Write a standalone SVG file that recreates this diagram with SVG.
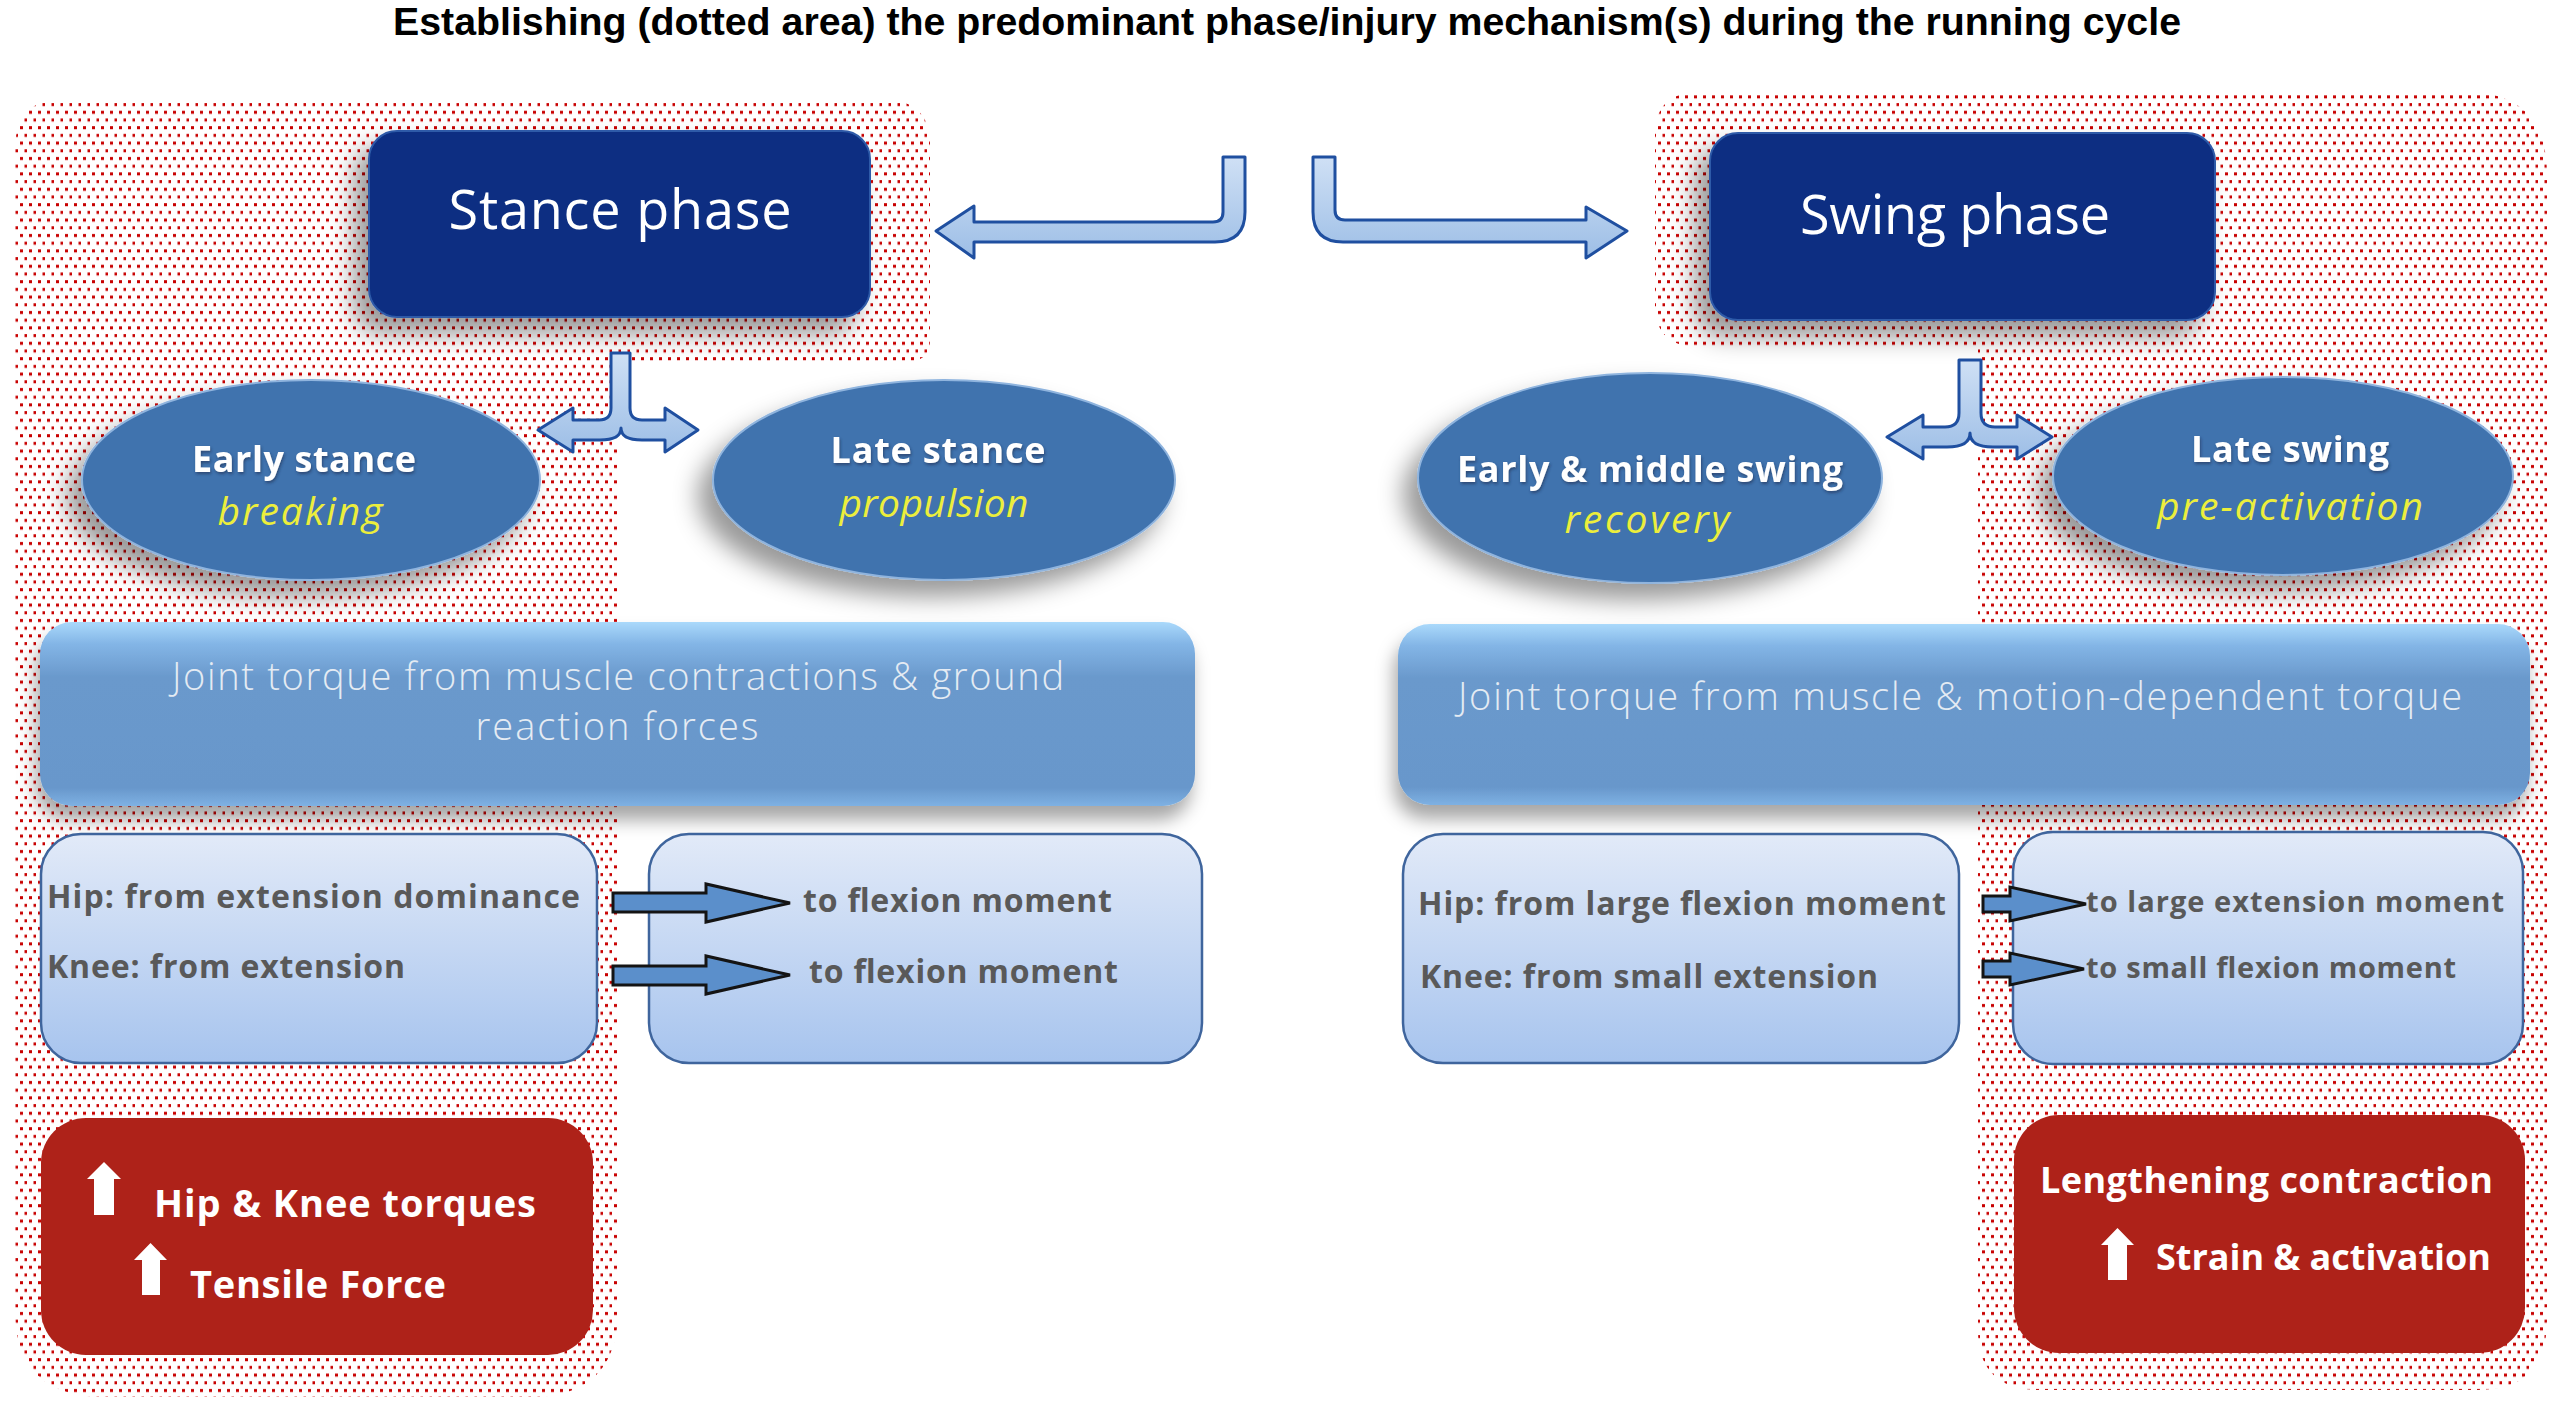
<svg xmlns="http://www.w3.org/2000/svg" width="2564" height="1408" viewBox="0 0 2564 1408">
<defs>
<pattern id="dots" width="9" height="15.4" patternUnits="userSpaceOnUse">
<rect x="2" y="3" width="3" height="3" fill="#c80000"/>
<rect x="6.5" y="10.7" width="3" height="3" fill="#c80000"/>
</pattern>
<filter id="sh" x="-20%" y="-20%" width="140%" height="150%">
<feDropShadow dx="-14" dy="16" stdDeviation="12" flood-color="#000" flood-opacity="0.4"/>
</filter>
<filter id="shb" x="-10%" y="-20%" width="120%" height="160%">
<feDropShadow dx="-4" dy="14" stdDeviation="9" flood-color="#000" flood-opacity="0.35"/>
</filter>
<filter id="ts" x="-5%" y="-20%" width="110%" height="150%">
<feDropShadow dx="1" dy="2" stdDeviation="1.5" flood-color="#1a2a50" flood-opacity="0.6"/>
</filter>
<linearGradient id="gBig" x1="0" y1="0" x2="0" y2="1">
<stop offset="0" stop-color="#aad9fb"/>
<stop offset="0.12" stop-color="#83b5e6"/>
<stop offset="0.3" stop-color="#6a99cc"/>
<stop offset="0.9" stop-color="#6897cb"/>
<stop offset="1" stop-color="#7eb1e3"/>
</linearGradient>
<linearGradient id="gSmall" x1="0" y1="0" x2="0" y2="1">
<stop offset="0" stop-color="#e2eaf8"/>
<stop offset="1" stop-color="#a7c4ee"/>
</linearGradient>
<linearGradient id="gArr" x1="0" y1="0" x2="0" y2="1">
<stop offset="0" stop-color="#cfe0f5"/>
<stop offset="1" stop-color="#9dbee6"/>
</linearGradient>
<style>
.dot{fill:url(#dots);}
.navy{fill:#0c2f82;stroke:#2f5aa8;stroke-width:2;}
.ell{fill:#4173ae;stroke:#8fb4de;stroke-width:2;}
.big{fill:url(#gBig);}
.small{fill:url(#gSmall);stroke:#3f659d;stroke-width:2.5;}
.red{fill:#ae2219;}
.conn{fill:url(#gArr);stroke:#1f4fa0;stroke-width:3;stroke-linejoin:round;}
.blk{fill:#5b8fcb;stroke:#141414;stroke-width:3;stroke-linejoin:miter;}
.up{fill:#ffffff;}
.t-title{font-family:"Liberation Sans",Arial,sans-serif;font-weight:bold;font-size:38px;fill:#000;}
.t-phase{font-family:"Open Sans","Liberation Sans",sans-serif;font-size:54px;fill:#fff;}
.t-ell{font-family:"Open Sans","Liberation Sans",sans-serif;font-weight:bold;font-size:36px;fill:#fff;}
.t-ital{font-family:"Open Sans","Liberation Sans",sans-serif;font-style:italic;font-size:39px;fill:#ecee3c;}
.t-tq{font-family:"Open Sans","Liberation Sans",sans-serif;font-weight:300;font-size:38px;fill:#e4ebf3;}
.t-sm{font-family:"Open Sans","Liberation Sans",sans-serif;font-weight:bold;font-size:32px;fill:#595959;}
.t-sm2{font-family:"Open Sans","Liberation Sans",sans-serif;font-weight:bold;font-size:29px;fill:#595959;}
.t-red{font-family:"Open Sans","Liberation Sans",sans-serif;font-weight:bold;font-size:38px;fill:#fff;}
</style>
</defs>
<rect x="0" y="0" width="2564" height="1408" fill="#ffffff"/>

<g id="title">
<text class="t-title" x="393" y="35" textLength="1788" lengthAdjust="spacingAndGlyphs">Establishing (dotted area) the predominant phase/injury mechanism(s) during the running cycle</text>
</g>

<g id="dotted-areas">
<path class="dot" d="M60,100 H885 Q930,100 930,145 V340 Q930,362 905,362 H618 V1310 Q618,1397 530,1397 H105 Q15,1397 15,1310 V150 Q15,100 60,100 Z"/>
<path class="dot" d="M1700,92 H2465 Q2547,92 2547,175 V1320 Q2547,1390 2478,1390 H2040 Q1978,1390 1978,1330 V347 H1700 Q1655,347 1655,305 V135 Q1655,92 1700,92 Z"/>
</g>

<g id="stance-phase" filter="url(#sh)">
<rect class="navy" x="369" y="131" width="501" height="186" rx="28"/>
<text class="t-phase" x="620" y="229" text-anchor="middle" textLength="343">Stance phase</text>
</g>
<g id="swing-phase" filter="url(#sh)">
<rect class="navy" x="1710" y="133" width="505" height="187" rx="28"/>
<text class="t-phase" x="1955" y="234" text-anchor="middle" textLength="310">Swing phase</text>
</g>

<g id="early-stance">
<ellipse class="ell" cx="311" cy="480" rx="229" ry="100" filter="url(#sh)"/>
<text class="t-ell" x="304" y="472" text-anchor="middle" textLength="224" filter="url(#ts)">Early stance</text>
<text class="t-ital" x="300" y="525" text-anchor="middle" textLength="165">breaking</text>
</g>
<g id="late-stance">
<ellipse class="ell" cx="944" cy="480" rx="231" ry="100" filter="url(#sh)"/>
<text class="t-ell" x="938" y="463" text-anchor="middle" textLength="215" filter="url(#ts)">Late stance</text>
<text class="t-ital" x="934" y="517" text-anchor="middle" textLength="189">propulsion</text>
</g>
<g id="early-middle-swing">
<ellipse class="ell" cx="1650" cy="478" rx="232" ry="105" filter="url(#sh)"/>
<text class="t-ell" x="1650" y="482" text-anchor="middle" textLength="386" filter="url(#ts)">Early &amp; middle swing</text>
<text class="t-ital" x="1647" y="533" text-anchor="middle" textLength="165">recovery</text>
</g>
<g id="late-swing">
<ellipse class="ell" cx="2283" cy="476" rx="230" ry="99" filter="url(#sh)"/>
<text class="t-ell" x="2290" y="462" text-anchor="middle" textLength="198" filter="url(#ts)">Late swing</text>
<text class="t-ital" x="2290" y="520" text-anchor="middle" textLength="266">pre-activation</text>
</g>

<g id="torque-stance">
<rect class="big" x="40" y="622" width="1155" height="184" rx="32" filter="url(#shb)"/>
<text class="t-tq" x="618" y="690" text-anchor="middle" textLength="892">Joint torque from muscle contractions &amp; ground</text>
<text class="t-tq" x="617" y="740" text-anchor="middle" textLength="283">reaction forces</text>
</g>
<g id="torque-swing">
<rect class="big" x="1398" y="624" width="1132" height="181" rx="32" filter="url(#shb)"/>
<text class="t-tq" x="1960" y="710" text-anchor="middle" textLength="1004">Joint torque from muscle &amp; motion-dependent torque</text>
</g>

<g id="stance-from">
<rect class="small" x="41" y="834" width="556" height="229" rx="40"/>
<text class="t-sm" x="47" y="908" textLength="533">Hip: from extension dominance</text>
<text class="t-sm" x="47" y="978" textLength="358">Knee: from extension</text>
</g>
<g id="stance-to">
<rect class="small" x="649" y="834" width="553" height="229" rx="40"/>
<text class="t-sm" x="803" y="912" textLength="309">to flexion moment</text>
<text class="t-sm" x="809" y="983" textLength="309">to flexion moment</text>
</g>
<g id="swing-from">
<rect class="small" x="1403" y="834" width="556" height="229" rx="40"/>
<text class="t-sm" x="1418" y="915" textLength="528">Hip: from large flexion moment</text>
<text class="t-sm" x="1420" y="988" textLength="458">Knee: from small extension</text>
</g>
<g id="swing-to">
<rect class="small" x="2013" y="832" width="510" height="232" rx="40"/>
<text class="t-sm2" x="2086" y="912" textLength="418">to large extension moment</text>
<text class="t-sm2" x="2086" y="978" textLength="370">to small flexion moment</text>
</g>

<g id="stance-result">
<rect class="red" x="41" y="1118" width="552" height="237" rx="45"/>
<path class="up" d="M104,1162 L121,1179 H114 V1215 H94 V1179 H87 Z"/>
<text class="t-red" x="154" y="1217" textLength="382">Hip &amp; Knee torques</text>
<path class="up" d="M150.5,1243 L167,1260 H160 V1295 H142 V1260 H134 Z"/>
<text class="t-red" x="190" y="1298" textLength="256">Tensile Force</text>
</g>
<g id="swing-result">
<rect class="red" x="2014" y="1115" width="511" height="238" rx="45"/>
<text class="t-red" x="2040" y="1193" textLength="453" style="font-size:36px">Lengthening contraction</text>
<path class="up" d="M2117.5,1228 L2134,1245 H2127 V1280 H2108 V1245 H2101 Z"/>
<text class="t-red" x="2156" y="1270" textLength="335" style="font-size:36px">Strain &amp; activation</text>
</g>

<g id="connectors">
<path class="conn" d="M1223,157 H1245 V212 Q1245,242 1215,242 H974 V258 L936,231 L974,206 V222 H1213 Q1223,222 1223,212 Z"/>
<path class="conn" d="M1313,157 H1335 V210 Q1335,220 1345,220 H1586 V207 L1627,231 L1586,258 V242 H1343 Q1313,242 1313,212 Z"/>
<path class="conn" d="M611,353 H630 V408 Q630,420 642,420 H665 V408 L698,430 L665,452 V440 H642 Q621,440 621,428 Q621,440 600,440 H573 V452 L538,430 L573,408 V420 H599 Q611,420 611,408 Z"/>
<path class="conn" d="M1959,360 H1981 V413 Q1981,427 1995,427 H2017 V415 L2052,437 L2017,459 V447 H1993 Q1970,447 1970,433 Q1970,447 1947,447 H1923 V459 L1887,437 L1923,415 V427 H1945 Q1959,427 1959,413 Z"/>
<path class="blk" d="M613,893 H706 V884 L790,903 L706,922 V912 H613 Z"/>
<path class="blk" d="M613,966 H706 V956 L790,975 L706,994 V985 H613 Z"/>
<path class="blk" d="M1983,896 H2010 V887 L2086,904 L2010,921 V912 H1983 Z"/>
<path class="blk" d="M1983,961 H2010 V953 L2084,969 L2010,985 V977 H1983 Z"/>
</g>
</svg>
